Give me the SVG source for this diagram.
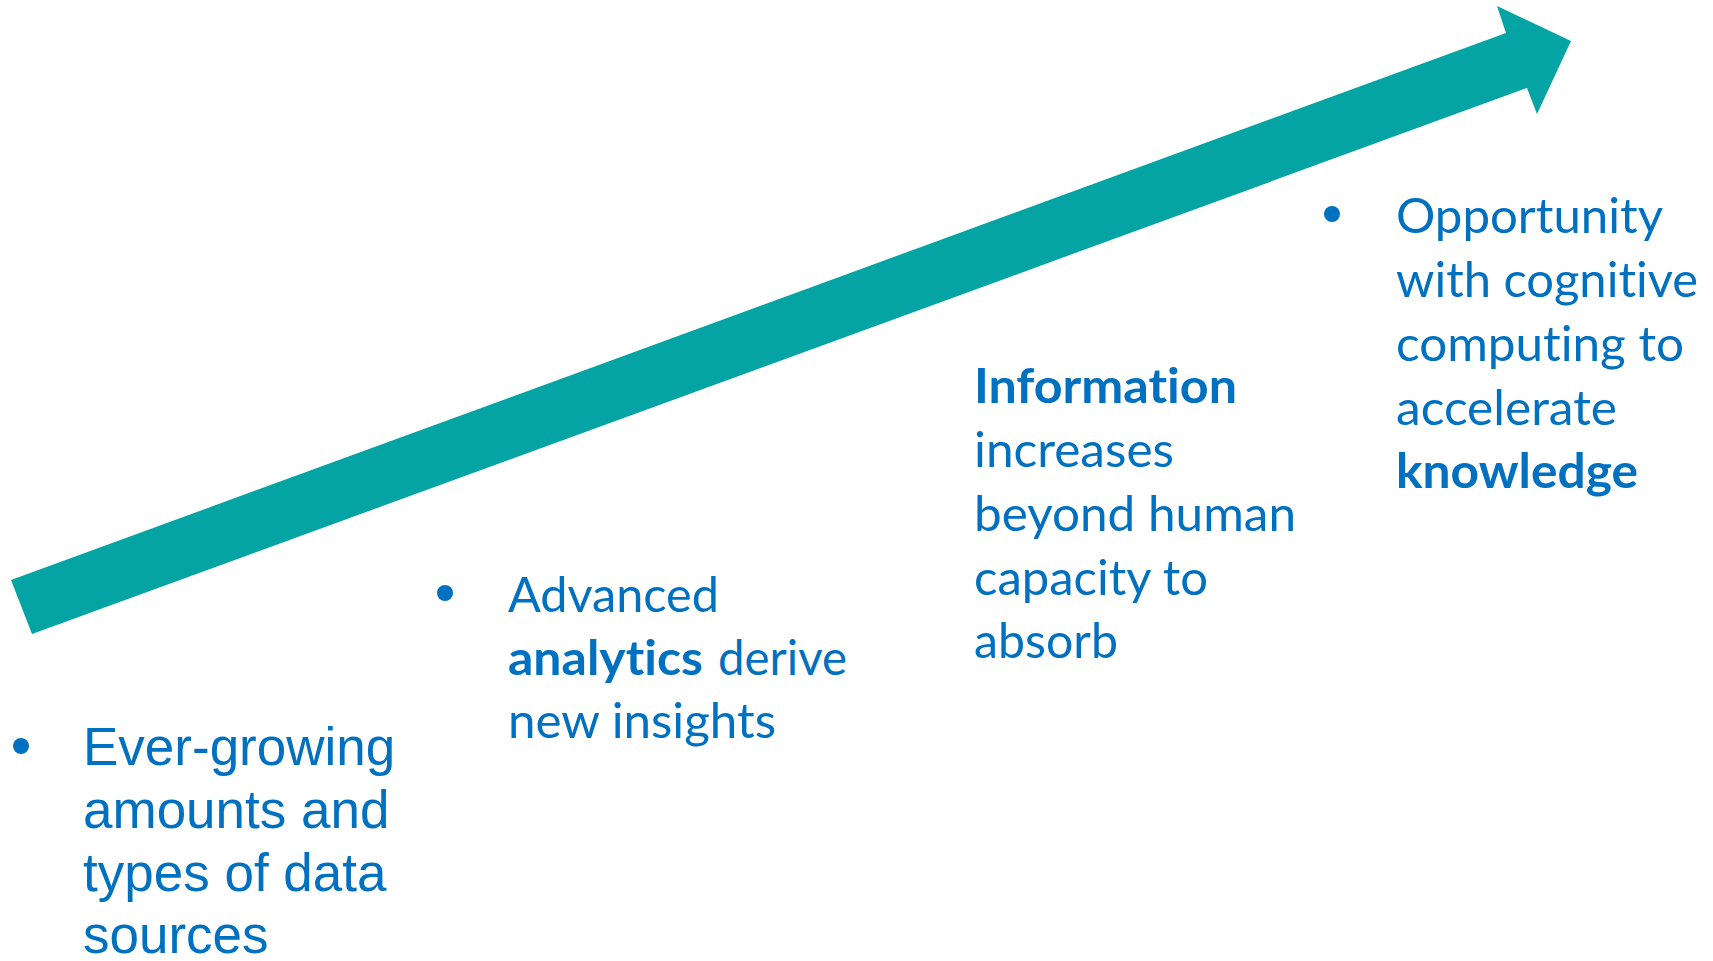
<svg xmlns="http://www.w3.org/2000/svg" width="1713" height="961" viewBox="0 0 1713 961">
<style>
.arial{font-family:"Liberation Sans",Arial,sans-serif;font-size:53px;fill:#0070C0}
.cal{font-family:Lato,"Open Sans",sans-serif;font-size:48px;fill:#0070C0;font-variant-ligatures:none;font-feature-settings:"liga" 0,"dlig" 0}
.b{font-weight:bold}
.dot{fill:#0070C0}
</style>
<rect width="1713" height="961" fill="#ffffff"/>
<g id="connectors">
<polygon id="growth-arrow" points="11,580 1506,33 1497,6 1571,41 1537,114 1527,88 32,634" fill="#04A3A4"/>
</g>
<g id="node-data">
<circle class="dot" cx="21" cy="746" r="8"/>
<text class="arial" x="83" y="765">Ever-growing</text>
<text class="arial" x="83" y="828">amounts and</text>
<text class="arial" x="83" y="891">types of data</text>
<text class="arial" x="83" y="953">sources</text>
</g>
<g id="node-analytics">
<circle class="dot" cx="445" cy="593" r="8"/>
<text class="cal" x="508" y="612" textLength="211" lengthAdjust="spacingAndGlyphs">Advanced</text>
<text class="cal b" x="508" y="675" textLength="195" lengthAdjust="spacingAndGlyphs">analytics</text>
<text class="cal" x="718" y="675" textLength="129" lengthAdjust="spacingAndGlyphs">derive</text>
<text class="cal" x="508" y="738" textLength="268" lengthAdjust="spacingAndGlyphs">new insights</text>
</g>
<g id="node-information">
<text class="cal b" x="974" y="403" textLength="263" lengthAdjust="spacingAndGlyphs">Information</text>
<text class="cal" x="974" y="467" textLength="200" lengthAdjust="spacingAndGlyphs">increases</text>
<text class="cal" x="974" y="531" textLength="322" lengthAdjust="spacingAndGlyphs">beyond human</text>
<text class="cal" x="974" y="595" textLength="234" lengthAdjust="spacingAndGlyphs">capacity to</text>
<text class="cal" x="974" y="658" textLength="144" lengthAdjust="spacingAndGlyphs">absorb</text>
</g>
<g id="node-knowledge">
<circle class="dot" cx="1332" cy="214" r="8"/>
<text class="cal" x="1396" y="233" textLength="267" lengthAdjust="spacingAndGlyphs">Opportunity</text>
<text class="cal" x="1396" y="297" textLength="302" lengthAdjust="spacingAndGlyphs">with cognitive</text>
<text class="cal" x="1396" y="361" textLength="288" lengthAdjust="spacingAndGlyphs">computing to</text>
<text class="cal" x="1396" y="425" textLength="221" lengthAdjust="spacingAndGlyphs">accelerate</text>
<text class="cal b" x="1396" y="488" textLength="242" lengthAdjust="spacingAndGlyphs">knowledge</text>
</g>
</svg>
